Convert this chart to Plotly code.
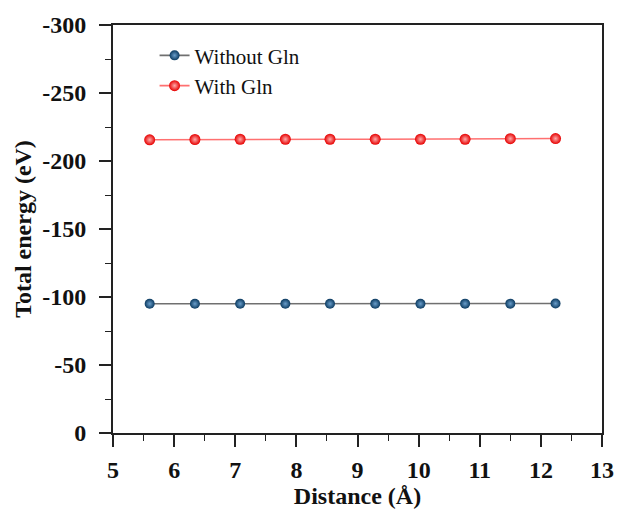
import plotly.graph_objects as go

# Separation distance (Å) between the two fragments
distance = [5.60, 6.34, 7.08, 7.82, 8.55, 9.29, 10.03, 10.76, 11.50, 12.24]

# Total energy (eV)
energy_without_gln = [-95.0, -95.0, -95.0, -95.0, -95.0, -95.0, -95.0, -95.1, -95.1, -95.2]
energy_with_gln = [-215.6, -215.8, -216.0, -216.0, -216.0, -216.0, -216.0, -216.0, -216.4, -216.5]

series_names = ["Without Gln", "With Gln"]

x_ticks = [5, 6, 7, 8, 9, 10, 11, 12, 13]
y_ticks = [0, -50, -100, -150, -200, -250, -300]

serif = "Liberation Serif"

fig = go.Figure()

fig.add_trace(go.Scatter(
    x=distance, y=energy_without_gln, name=series_names[0],
    mode="lines+markers",
    line=dict(color="#707070", width=1.6),
    marker=dict(size=10, color="#0b3a60",
                gradient=dict(type="radial", color="#6a9ecb"),
                line=dict(width=0)),
))

fig.add_trace(go.Scatter(
    x=distance, y=energy_with_gln, name=series_names[1],
    mode="lines+markers",
    line=dict(color="#ff7070", width=1.6),
    marker=dict(size=11, color="#e60000",
                gradient=dict(type="radial", color="#ffaaaa"),
                line=dict(width=0)),
))

tick_font = dict(family=serif, size=24, color="#111")
title_font = dict(family=serif, size=24, color="#111")

axis_common = dict(
    showline=True, linecolor="#222", linewidth=1.7, mirror=True,
    ticks="outside", ticklen=12, tickwidth=1.6, tickcolor="#222",
    showgrid=False, zeroline=False,
    tickfont=tick_font,
)

fig.update_xaxes(
    range=[5, 13], tickvals=x_ticks, ticktext=[f"<b>{v}</b>" for v in x_ticks],
    minor=dict(dtick=0.5, ticks="outside", ticklen=6, tickwidth=1.4, tickcolor="#222"),
    ticklabelstandoff=2,
    title=dict(text="<b>Distance (Å)</b>", standoff=3, font=title_font),
    **axis_common,
)

fig.update_yaxes(
    range=[0, -300], tickvals=y_ticks, ticktext=[f"<b>{v}</b>" for v in y_ticks],
    minor=dict(dtick=25, ticks="outside", ticklen=6, tickwidth=1.4, tickcolor="#222"),
    ticklabelstandoff=8,
    title=dict(text="<b>Total energy (eV)</b>", standoff=4, font=title_font),
    **axis_common,
)

fig.update_layout(
    width=619, height=512,
    margin=dict(l=113, r=17, t=25, b=79, autoexpand=False),
    plot_bgcolor="white", paper_bgcolor="white",
    legend=dict(
        x=0.085, y=0.975, xanchor="left", yanchor="top",
        bgcolor="rgba(0,0,0,0)", borderwidth=0,
        font=dict(family=serif, size=21, color="#111"),
        tracegroupgap=0,
    ),
)

fig.write_html("out.html")
